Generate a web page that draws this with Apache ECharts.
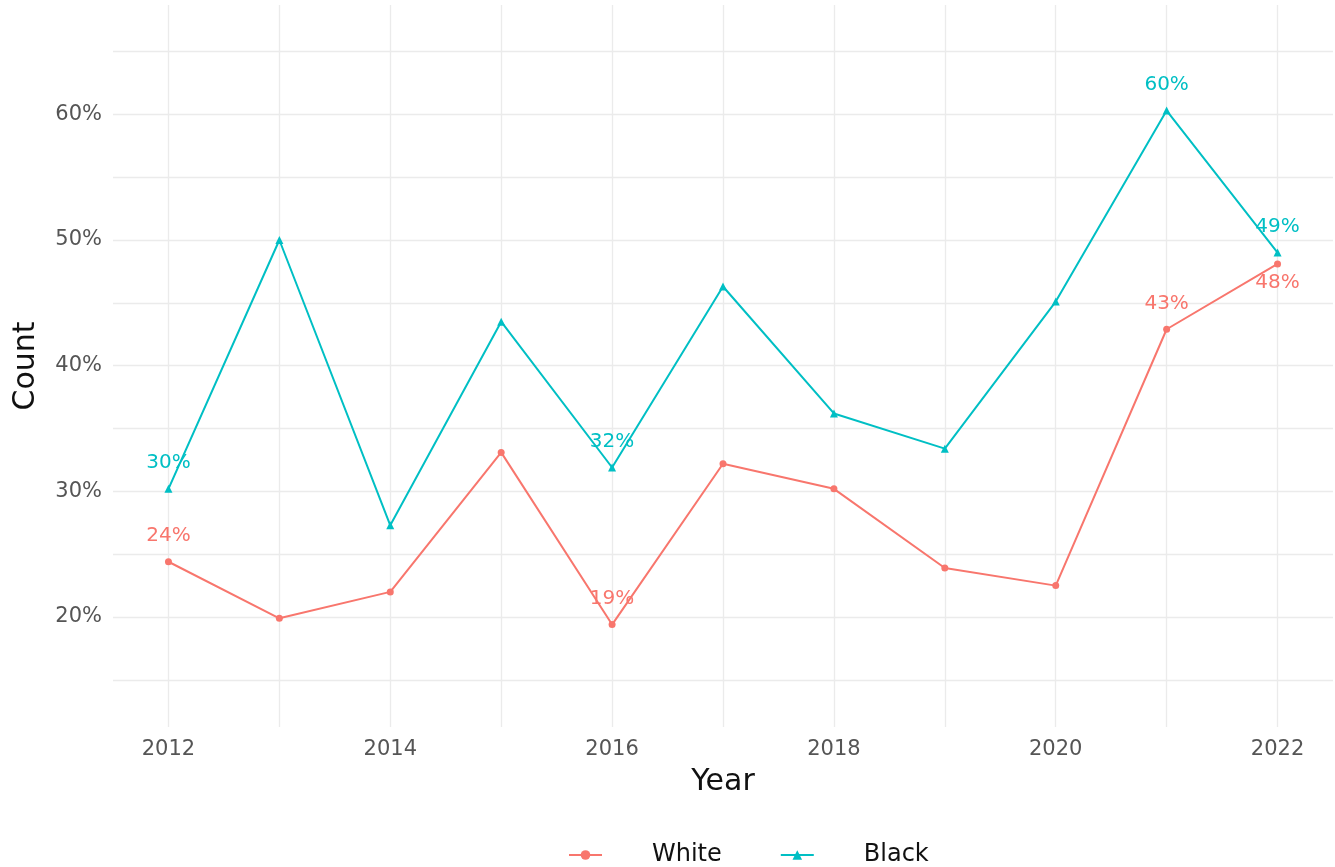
<!DOCTYPE html>
<html><head><meta charset="utf-8">
<script src="https://cdn.jsdelivr.net/npm/echarts@6/dist/echarts.min.js"></script>
<style>html,body{margin:0;padding:0;background:#fff}#c{width:1335px;height:867px}</style>
</head><body><div id="c"></div>
<script>
const years = [2012, 2013, 2014, 2015, 2016, 2017, 2018, 2019, 2020, 2021, 2022];
const whiteValues = [24.4, 19.9, 22.0, 33.1, 19.4, 32.2, 30.2, 23.9, 22.5, 42.9, 48.1];
const blackValues = [30.2, 50.0, 27.3, 43.5, 31.9, 46.3, 36.2, 33.4, 45.1, 60.3, 49.0];
const xTickLabels = [2012, 2014, 2016, 2018, 2020, 2022];
const yTickLabels = [20, 30, 40, 50, 60];
const yGridValues = [15, 20, 25, 30, 35, 40, 45, 50, 55, 60, 65];
const whiteLabelAbove = [2012, 2016, 2021];
const whiteLabelBelow = [2022];
const blackLabelAbove = [2012, 2016, 2021, 2022];

const WHITE = '#F8766D', BLACK = '#00BFC4';
const FONT = '"DejaVu Sans", sans-serif';

function build(values, above, below) {
  return years.map((y, i) => {
    const item = { value: [y, values[i]] };
    if (above.includes(y)) item.label = { show: true, position: 'top', distance: 12 };
    else if (below.includes(y)) item.label = { show: true, position: 'bottom', distance: 5 };
    return item;
  });
}

const chart = echarts.init(document.getElementById('c'), null, { renderer: 'canvas' });
const gridLine = { show: true, lineStyle: { color: '#ebebeb', width: 1.3 } };
chart.setOption({
  animation: false,
  backgroundColor: '#fff',
  grid: { left: 113, right: 2, top: 5, bottom: 140, containLabel: false },
  xAxis: {
    type: 'value', min: 2011.5, max: 2022.5,
    name: 'Year', nameLocation: 'middle', nameGap: 40,
    nameTextStyle: { fontFamily: FONT, fontSize: 30, color: '#111' },
    axisLine: { show: false },
    axisTick: { show: false, customValues: years },
    axisLabel: { customValues: xTickLabels, fontFamily: FONT, fontSize: 21, color: '#555', margin: 12,
      formatter: v => String(v) },
    splitLine: gridLine
  },
  yAxis: {
    type: 'value', min: 11.25, max: 68.7,
    name: 'Count', nameLocation: 'middle', nameGap: 72,
    nameTextStyle: { fontFamily: FONT, fontSize: 30, color: '#111' },
    axisLine: { show: false },
    axisTick: { show: false, customValues: yGridValues },
    axisLabel: { customValues: yTickLabels, fontFamily: FONT, fontSize: 21, color: '#555', margin: 11,
      formatter: v => v + '%' },
    splitLine: gridLine
  },
  legend: {
    top: 838, left: 563, itemWidth: 33, itemHeight: 12, itemGap: 58,
    textStyle: { fontFamily: FONT, fontSize: 24, color: '#111', padding: [0, 0, 0, 45] },
    data: ['White', 'Black']
  },
  series: [
    {
      name: 'White', type: 'line', data: build(whiteValues, whiteLabelAbove, whiteLabelBelow),
      symbol: 'circle', symbolSize: 7, color: WHITE,
      lineStyle: { width: 2, color: WHITE }, itemStyle: { color: WHITE },
      label: { show: false, color: WHITE, fontFamily: FONT, fontSize: 20,
        formatter: p => Math.round(p.value[1]) + '%' }
    },
    {
      name: 'Black', type: 'line', data: build(blackValues, blackLabelAbove, []),
      symbol: 'triangle', symbolSize: 8, color: BLACK,
      lineStyle: { width: 2, color: BLACK }, itemStyle: { color: BLACK },
      label: { show: false, color: BLACK, fontFamily: FONT, fontSize: 20,
        formatter: p => Math.round(p.value[1]) + '%' }
    }
  ]
});
</script></body></html>
